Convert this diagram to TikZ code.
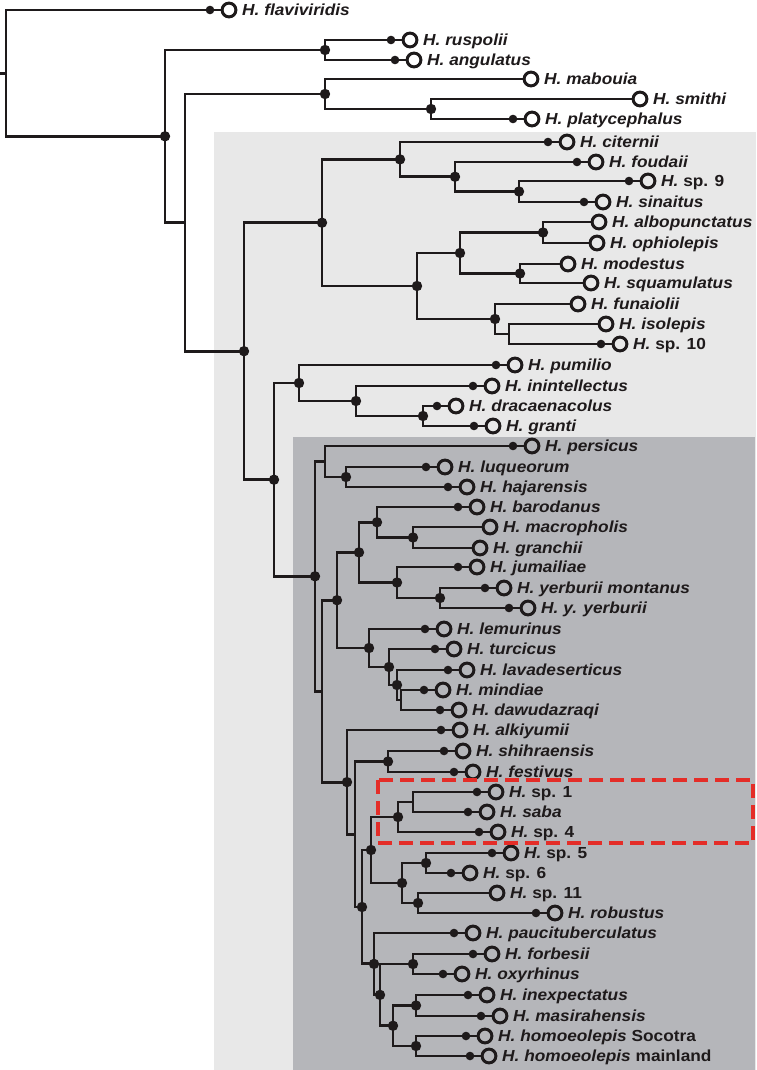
\documentclass[tikz,border=0pt]{standalone}
\usepackage{fontspec}
\setmainfont{Liberation Sans}[FakeStretch=1.08]
\definecolor{ink}{RGB}{30,26,27}
\definecolor{lightbg}{RGB}{232,232,232}
\definecolor{darkbg}{RGB}{181,182,186}
\definecolor{hlred}{RGB}{228,45,40}
\tikzset{
  br/.style={line width=2.9pt, draw=ink, line join=miter},
  leafc/.style={circle, draw=ink, line width=3pt, minimum size=13.8pt, inner sep=0pt},
  sdot/.style={circle, fill=ink, minimum size=8.6pt, inner sep=0pt},
  ndot/.style={circle, fill=ink, minimum size=10.4pt, inner sep=0pt},
  lab/.style={anchor=base west, inner sep=0pt, font=\fontsize{16}{18}\selectfont\bfseries, text=ink},
  hlbox/.style={draw=hlred, line width=4pt, dash pattern=on 14pt off 7pt},
}
\newcommand\lf[4]{\node[leafc] (#1) at (#2,#3) {};
  \node[lab] (#1t) at ([xshift=13pt,yshift=-5.6pt]#1.center) {#4};}
\newcommand\lfd[4]{\lf{#1}{#2}{#3}{#4}\node[sdot] (#1d) at ([xshift=-19pt]#1.center) {};}
\newcommand\nd[3]{\node[ndot] (#1) at (#2,#3) {};}
\newcommand\nc[3]{\coordinate (#1) at (#2,#3);}
\newcommand\ed[2]{\draw[br] (#1.center) |- (#2);}
\begin{document}
\begin{tikzpicture}[x=1pt,y=-1pt]
\fill[white] (0,0) rectangle (756,1070);
\useasboundingbox (0,0) rectangle (756,1070);
\fill[lightbg] (214,132) rectangle (756,1070);
\fill[darkbg] (293,437) rectangle (755,1070);

% leaves
\lfd{L1}{229}{10}{\textit{H. flaviviridis}}
\lfd{L2}{410}{40}{\textit{H. ruspolii}}
\lfd{L3}{414}{60}{\textit{H. angulatus}}
\lf{L4}{531}{79}{\textit{H. mabouia}}
\lf{L5}{640}{99}{\textit{H. smithi}}
\lfd{L6}{532}{119}{\textit{H. platycephalus}}
\lfd{L7}{567}{142}{\textit{H. citernii}}
\lfd{L8}{596}{162}{\textit{H. foudaii}}
\lfd{L9}{648}{181}{\textit{H.} sp. 9}
\lfd{L10}{603}{202}{\textit{H. sinaitus}}
\lf{L11}{599}{222}{\textit{H. albopunctatus}}
\lf{L12}{597}{243}{\textit{H. ophiolepis}}
\lf{L13}{568}{264}{\textit{H. modestus}}
\lf{L14}{591}{283}{\textit{H. squamulatus}}
\lf{L15}{578}{304}{\textit{H. funaiolii}}
\lf{L16}{606}{324}{\textit{H. isolepis}}
\lfd{L17}{620}{344}{\textit{H.} sp. 10}
\lfd{L18}{515}{365}{\textit{H. pumilio}}
\lfd{L19}{492}{386}{\textit{H. inintellectus}}
\lfd{L20}{456}{406}{\textit{H. dracaenacolus}}
\lfd{L21}{493}{426}{\textit{H. granti}}
\lfd{L22}{532}{446}{\textit{H. persicus}}
\lfd{L23}{445}{467}{\textit{H. luqueorum}}
\lfd{L24}{467}{487}{\textit{H. hajarensis}}
\lfd{L25}{477}{507}{\textit{H. barodanus}}
\lf{L26}{490}{527}{\textit{H. macropholis}}
\lf{L27}{480}{548}{\textit{H. granchii}}
\lfd{L28}{477}{567}{\textit{H. jumailiae}}
\lfd{L29}{504}{588}{\textit{H. yerburii montanus}}
\lfd{L30}{528}{608}{\textit{H. y. yerburii}}
\lfd{L31}{444}{629}{\textit{H. lemurinus}}
\lfd{L32}{454}{649}{\textit{H. turcicus}}
\lfd{L33}{467}{670}{\textit{H. lavadeserticus}}
\lfd{L34}{443}{690}{\textit{H. mindiae}}
\lfd{L35}{459}{710}{\textit{H. dawudazraqi}}
\lfd{L36}{460}{730}{\textit{H. alkiyumii}}
\lfd{L37}{463}{751}{\textit{H. shihraensis}}
\lfd{L38}{473}{772}{\textit{H. festivus}}
\lfd{L39}{496}{792}{\textit{H.} sp. 1}
\lfd{L40}{487}{812}{\textit{H. saba}}
\lfd{L41}{498}{832}{\textit{H.} sp. 4}
\lfd{L42}{511}{853}{\textit{H.} sp. 5}
\lfd{L43}{470}{873}{\textit{H.} sp. 6}
\lf{L44}{497}{893}{\textit{H.} sp. 11}
\lfd{L45}{555}{913}{\textit{H. robustus}}
\lfd{L46}{473}{933}{\textit{H. paucituberculatus}}
\lfd{L47}{492}{954}{\textit{H. forbesii}}
\lfd{L48}{462}{974}{\textit{H. oxyrhinus}}
\lfd{L49}{487}{995}{\textit{H. inexpectatus}}
\lfd{L50}{500}{1016}{\textit{H. masirahensis}}
\lfd{L51}{485}{1036}{\textit{H. homoeolepis} Socotra}
\lfd{L52}{489}{1056}{\textit{H. homoeolepis} mainland}

% internal nodes
\coordinate (r0) at (0,73.2);
\nc{root}{6}{73.2}
\nd{nX}{165}{136.3}
\nd{nRusp}{325}{50}
\nc{nY}{185}{222.6}
\nd{nMab}{325}{94}
\nd{nSP}{431}{109}
\nd{nAP}{244}{351.2}
\nd{nAfr}{322}{222.7}
\nd{nCit}{400}{159.4}
\nd{nFoud}{455}{176.75}
\nd{nFS}{519}{191.5}
\nd{nMid}{417}{286}
\nd{nAOMS}{460}{253}
\nd{nAO}{543}{232.5}
\nd{nMS}{520}{273.5}
\nd{nFun}{495}{319}
\nc{nIS}{509}{334}
\nd{nPD}{274}{479.7}
\nd{nPum}{299}{383}
\nd{nIDG}{356}{401}
\nd{nDG}{423}{416}
\nd{nDark}{315}{576.3}
\nc{nPers}{325}{461.5}
\nd{nLH}{346}{477}
\nc{nArab2}{322}{691.2}
\nd{nArab1}{337}{600.2}
\nd{nBJ}{359}{552.4}
\nd{nBar}{377}{522.25}
\nd{nMG}{413}{537.5}
\nd{nJum}{397}{582.5}
\nd{nYer}{440}{598}
\nd{nLem}{369}{648}
\nd{nTur}{389}{667}
\nd{nLav}{397}{685}
\nc{nMD}{401}{700}
\nd{nAlk}{347}{782.1}
\nc{nShSp}{355}{834.2}
\nd{nSF}{388}{761.5}
\nd{nSpPau}{362}{907}
\nd{nSp}{371}{850}
\nd{nS4}{398}{817}
\nc{nS1S}{413}{802}
\nd{nS5}{402}{883}
\nd{nS56}{426}{863}
\nd{nS11R}{418}{903}
\nd{nPau}{374}{963.9}
\nd{nFOIH}{380}{994.9}
\nd{nFO}{413}{964}
\nd{nIH}{393}{1025.75}
\nd{nIM}{416}{1005.5}
\nd{nHom}{416}{1046}

% branches
\draw[br] (r0) -- (root.center);
\ed{root}{L1.west} \ed{root}{nX.center}
\ed{nX}{nRusp.center} \ed{nX}{nY.center}
\ed{nRusp}{L2.west} \ed{nRusp}{L3.west}
\ed{nY}{nMab.center} \ed{nY}{nAP.center}
\ed{nMab}{L4.west} \ed{nMab}{nSP.center}
\ed{nSP}{L5.west} \ed{nSP}{L6.west}
\ed{nAP}{nAfr.center} \ed{nAP}{nPD.center}
\ed{nAfr}{nCit.center} \ed{nAfr}{nMid.center}
\ed{nCit}{L7.west} \ed{nCit}{nFoud.center}
\ed{nFoud}{L8.west} \ed{nFoud}{nFS.center}
\ed{nFS}{L9.west} \ed{nFS}{L10.west}
\ed{nMid}{nAOMS.center} \ed{nMid}{nFun.center}
\ed{nAOMS}{nAO.center} \ed{nAOMS}{nMS.center}
\ed{nAO}{L11.west} \ed{nAO}{L12.west}
\ed{nMS}{L13.west} \ed{nMS}{L14.west}
\ed{nFun}{L15.west} \ed{nFun}{nIS.center}
\ed{nIS}{L16.west} \ed{nIS}{L17.west}
\ed{nPD}{nPum.center} \ed{nPD}{nDark.center}
\ed{nPum}{L18.west} \ed{nPum}{nIDG.center}
\ed{nIDG}{L19.west} \ed{nIDG}{nDG.center}
\ed{nDG}{L20.west} \ed{nDG}{L21.west}
\ed{nDark}{nPers.center} \ed{nDark}{nArab2.center}
\ed{nPers}{L22.west} \ed{nPers}{nLH.center}
\ed{nLH}{L23.west} \ed{nLH}{L24.west}
\ed{nArab2}{nArab1.center} \ed{nArab2}{nAlk.center}
\ed{nArab1}{nBJ.center} \ed{nArab1}{nLem.center}
\ed{nBJ}{nBar.center} \ed{nBJ}{nJum.center}
\ed{nBar}{L25.west} \ed{nBar}{nMG.center}
\ed{nMG}{L26.west} \ed{nMG}{L27.west}
\ed{nJum}{L28.west} \ed{nJum}{nYer.center}
\ed{nYer}{L29.west} \ed{nYer}{L30.west}
\ed{nLem}{L31.west} \ed{nLem}{nTur.center}
\ed{nTur}{L32.west} \ed{nTur}{nLav.center}
\ed{nLav}{L33.west} \ed{nLav}{nMD.center}
\ed{nMD}{L34.west} \ed{nMD}{L35.west}
\ed{nAlk}{L36.west} \ed{nAlk}{nShSp.center}
\ed{nShSp}{nSF.center} \ed{nShSp}{nSpPau.center}
\ed{nSF}{L37.west} \ed{nSF}{L38.west}
\ed{nSpPau}{nSp.center} \ed{nSpPau}{nPau.center}
\ed{nSp}{nS4.center} \ed{nSp}{nS5.center}
\ed{nS4}{nS1S.center} \ed{nS4}{L41.west}
\ed{nS1S}{L39.west} \ed{nS1S}{L40.west}
\ed{nS5}{nS56.center} \ed{nS5}{nS11R.center}
\ed{nS56}{L42.west} \ed{nS56}{L43.west}
\ed{nS11R}{L44.west} \ed{nS11R}{L45.west}
\ed{nPau}{L46.west} \ed{nPau}{nFOIH.center}
\ed{nFOIH}{nFO.center} \ed{nFOIH}{nIH.center}
\ed{nFO}{L47.west} \ed{nFO}{L48.west}
\ed{nIH}{nIM.center} \ed{nIH}{nHom.center}
\ed{nIM}{L49.west} \ed{nIM}{L50.west}
\ed{nHom}{L51.west} \ed{nHom}{L52.west}

% highlight box
\draw[hlbox] (378,780) rectangle (753,843);
\end{tikzpicture}
\end{document}
